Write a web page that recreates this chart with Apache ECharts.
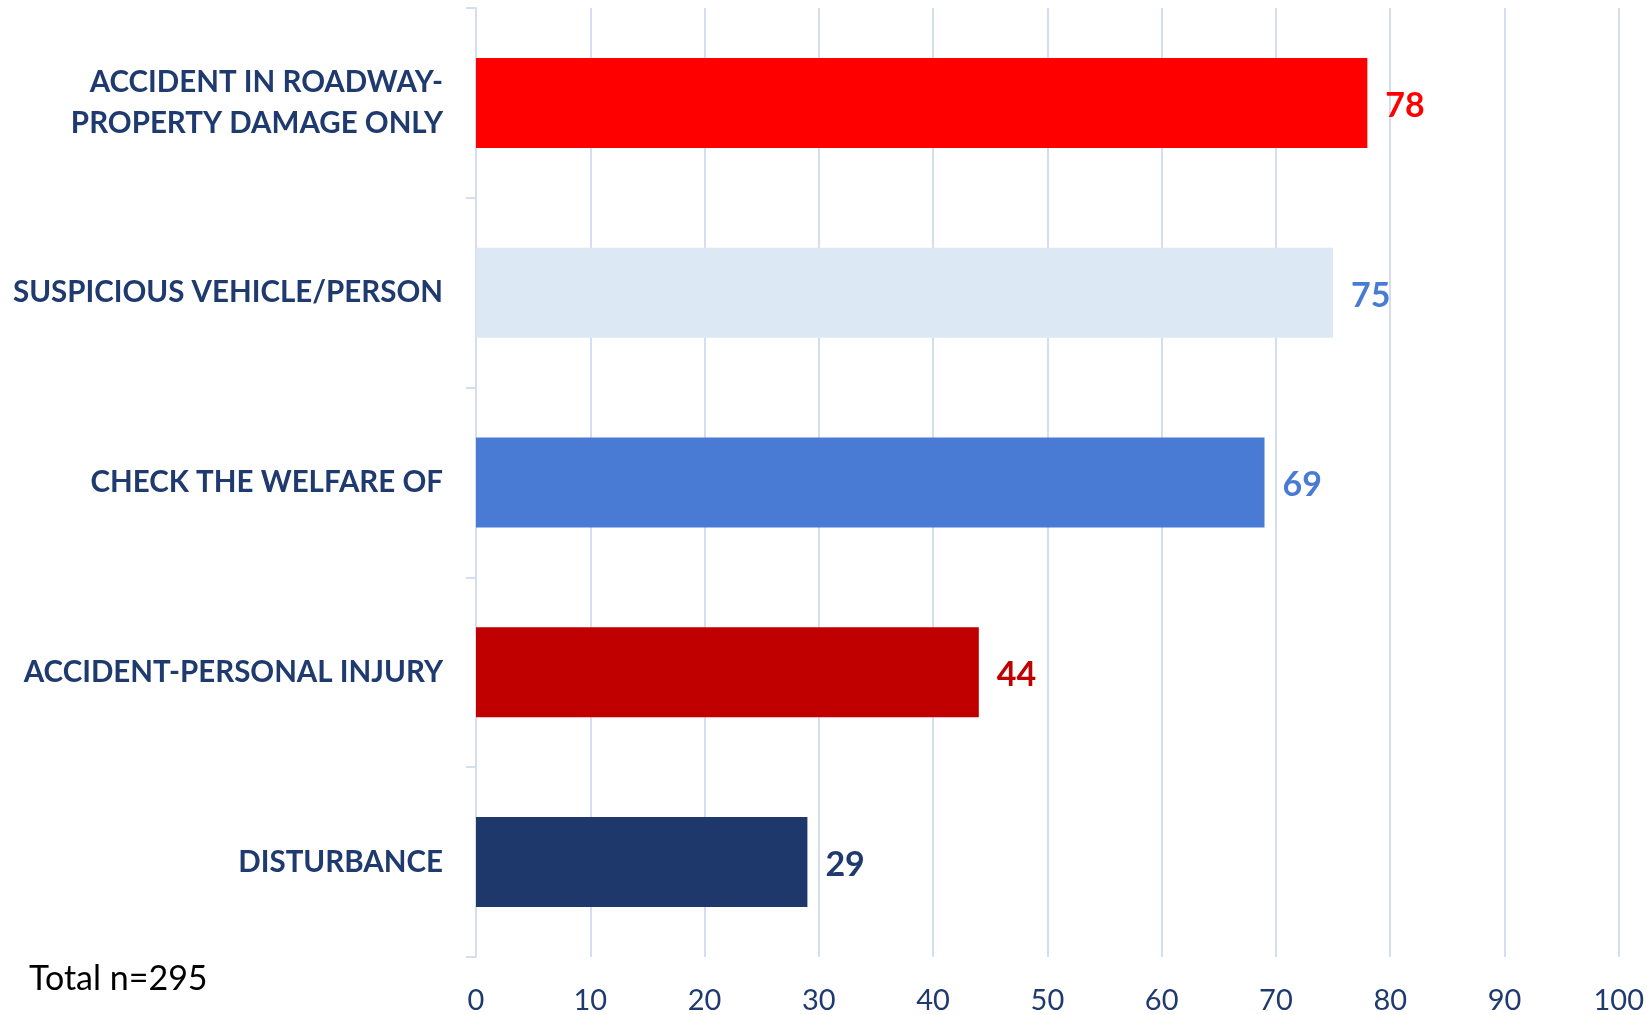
<!DOCTYPE html>
<html>
<head>
<meta charset="utf-8">
<script src="https://cdn.jsdelivr.net/npm/echarts@6/dist/echarts.min.js"></script>
<style>
html,body{margin:0;padding:0;background:#fff;}
#chart{width:1647px;height:1015px;}
</style>
</head>
<body>
<div id="chart"></div>
<script>
const categories = [
  "ACCIDENT IN ROADWAY-\nPROPERTY DAMAGE ONLY",
  "SUSPICIOUS VEHICLE/PERSON",
  "CHECK THE WELFARE OF",
  "ACCIDENT-PERSONAL INJURY",
  "DISTURBANCE"
];
const values = [78, 75, 69, 44, 29];
const barColors = ["#FF0000", "#DDE8F5", "#4A7BD4", "#C00000", "#1F386C"];
const labelColors = ["#FF0000", "#4A7BD4", "#4A7BD4", "#C00000", "#1F3A6E"];
const axisMin = 0, axisMax = 100, axisStep = 10;
const footnote = "Total n=295";

const chart = echarts.init(document.getElementById('chart'));
const gridColor = "#D3DEF1";
chart.setOption({
  animation: false,
  backgroundColor: "#ffffff",
  grid: {left: 476, right: 26, top: 8, bottom: 58, containLabel: false},
  xAxis: {
    type: 'value', min: axisMin, max: axisMax, interval: axisStep,
    axisLine: {show: false}, axisTick: {show: false},
    splitLine: {show: true, lineStyle: {color: gridColor, width: 2}},
    axisLabel: {color: "#1F3A6E", fontFamily: "Lato", fontSize: 29, margin: 29}
  },
  yAxis: {
    type: 'category', data: categories, inverse: true,
    axisLine: {show: true, lineStyle: {color: gridColor, width: 2}},
    axisTick: {show: true, length: 10, lineStyle: {color: gridColor, width: 2}},
    axisLabel: {color: "#1F3A6E", fontFamily: "Lato", fontWeight: "bold", fontSize: 29.5,
      margin: 33, align: 'right', lineHeight: 41}
  },
  series: [{
    type: 'bar',
    data: values.map((v, i) => ({value: v, itemStyle: {color: barColors[i]},
      label: {color: labelColors[i]}})),
    barWidth: 90,
    label: {show: true, position: 'right', distance: 18, offset: [0, 3], fontFamily: "Lato",
      fontWeight: "bold", fontSize: 34}
  }],
  graphic: [{
    type: 'text', left: 29, top: 962,
    style: {text: footnote, fill: "#000000", font: "34px Lato"}
  }]
});
</script>
</body>
</html>
